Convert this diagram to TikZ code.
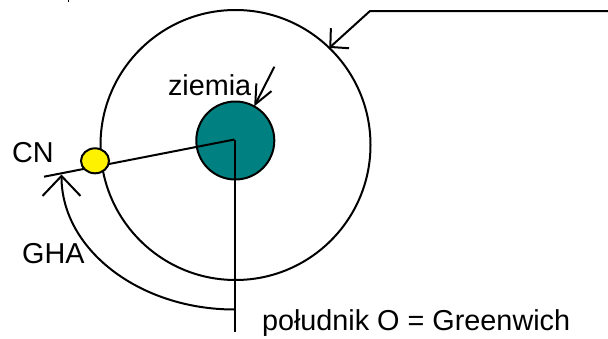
\documentclass[tikz,border=0pt]{standalone}
\usepackage{fontspec}
\setmainfont{Liberation Sans}
\usetikzlibrary{arrows.meta,shapes.geometric}
\definecolor{earthteal}{RGB}{0,128,128}
\tikzset{
    lab/.style={anchor=base west, inner sep=0pt, font=\fontsize{28.8}{32}\selectfont},
    ring/.style={circle, draw, inner sep=0pt, outer sep=0pt},
}
\begin{document}
\begin{tikzpicture}[x=1pt, y=-1pt, line width=2pt]
    \useasboundingbox (0,0) rectangle (608,338);
    % orbit and earth
    \node[ring, minimum size=270pt] (orbit) at (235.5,145) {};
    \node[ring, fill=earthteal, minimum size=78pt] (earth) at (235.3,140.5) {};
    \coordinate (c) at (234.5,139.5);
    \coordinate (cnend) at (44,176.7);
    \coordinate (mstart) at (234.5,309.5);
    \coordinate (mbot) at (234.5,331.7);
    \coordinate (ghatip) at (61.5,174.5);
    \coordinate (tr) at (608,11);
    \coordinate (bend) at (370,11);
    \coordinate (zstart) at (274.4,66.7);
    \draw[line width=1pt] (68,0) -- (68,2);
    % labels
    \node[lab] (cn) at (11.2,162.7) {CN};
    \node[lab] (gha) at (21.2,263.5) {GHA};
    \node[lab] (lziemia) at (167,95.7) {ziemia};
    \node[lab] (greenwich) at (261,330) {południk O = Greenwich};
    % lines
    \draw (c) -- (cnend);
    \draw (c) -- (mbot);
    \draw[-{Straight Barb[length=20pt,width=38pt]}] (mstart) .. controls +(-95.5,0) and +(0,74.6) .. (ghatip);
    \draw[-{Straight Barb[length=13pt,width=27pt]}] (tr) -- (bend) -- (orbit.46);
    \draw[-{Straight Barb[length=19pt,width=17pt]}] (zstart) -- (earth.61);
    \node[ellipse, draw, fill=yellow, minimum width=28pt, minimum height=25pt, inner sep=0pt] (cnstar) at (95,160.8) {};
\end{tikzpicture}
\end{document}
